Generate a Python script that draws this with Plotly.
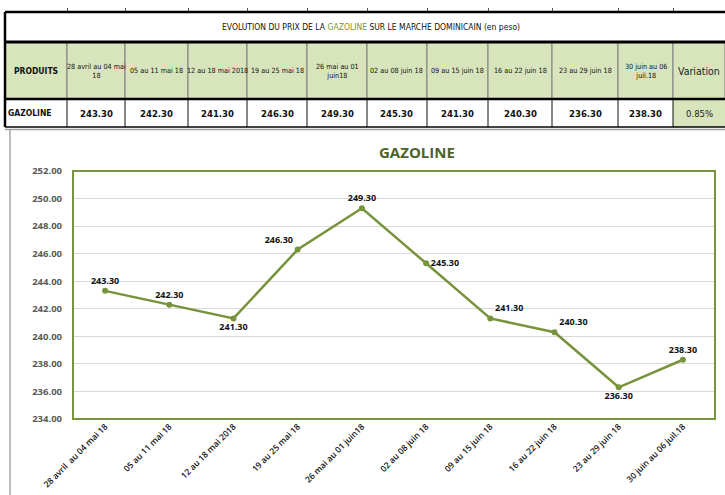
import plotly.graph_objects as go

periodes = [
    "28 avril  au 04 mai 18", "05 au 11 mai 18", "12 au 18 mai 2018", "19 au 25 mai 18",
    "26 mai au 01 juin18", "02 au 08 juin 18", "09 au 15 juin 18", "16 au 22 juin 18",
    "23 au 29 juin 18", "30 juin au 06 juil.18",
]
entetes_tableau = [
    "28 avril au 04 mai<br>18", "05 au 11 mai 18", "12 au 18 mai 2018", "19 au 25 mai 18",
    "26 mai au 01<br>juin18", "02 au 08 juin 18", "09 au 15 juin 18", "16 au 22 juin 18",
    "23 au 29 juin 18", "30 juin au 06<br>juil.18",
]
prix_gazoline = [243.30, 242.30, 241.30, 246.30, 249.30, 245.30, 241.30, 240.30, 236.30, 238.30]
positions_labels = ["top center", "top center", "bottom center", "top left", "top center",
                    "middle right", "top right", "top right", "bottom center", "top center"]

variation = (prix_gazoline[-1] - prix_gazoline[-2]) / prix_gazoline[-2]

VERT = "#77933c"
VERT_FONCE = "#4f6228"
VERT_CLAIR = "#d8e4bc"
NARROW = "DejaVu Sans Condensed, Liberation Sans Narrow, Roboto Condensed, sans-serif"
CHART_FONT = "Open Sans"

W, H = 725, 495
PL, PR, PT, PB = 73, 715, 171, 419  # zone de tracé en pixels


def px(x):
    return (x - PL) / (PR - PL)


def py(y):
    return (PB - y) / (PB - PT)


def narrow(size, color="#111111", weight="normal"):
    return dict(family=NARROW, size=size, color=color, weight=weight)


def texte(x, y, txt, font, xanchor="center"):
    return dict(xref="paper", yref="paper", x=px(x), y=py(y), text=txt, showarrow=False,
                xanchor=xanchor, yanchor="middle", font=font)


fig = go.Figure()
fig.add_trace(go.Scatter(
    x=periodes, y=prix_gazoline,
    mode="lines+markers+text",
    line=dict(color=VERT, width=2.5),
    marker=dict(color=VERT, size=6),
    text=[f"{v:.2f}" for v in prix_gazoline],
    textposition=positions_labels,
    textfont=dict(family=CHART_FONT, size=9, color="#111111", weight="bold"),
    cliponaxis=False,
    hoverinfo="skip",
))

shapes = []
annotations = []

# ---- tableau du haut ----
cols = [5, 67, 125, 188, 247, 307, 367, 427, 488, 552, 618, 673, 725]
y_titre, y_entete, y_data, y_bas = 12, 42, 99, 127

# remplissage vert des entêtes + cellule variation
for i in range(len(cols) - 1):
    shapes.append(dict(type="rect", xref="paper", yref="paper",
                       x0=px(cols[i]), x1=px(cols[i + 1]), y0=py(y_data), y1=py(y_entete),
                       fillcolor=VERT_CLAIR, line=dict(color="#7f7f7f", width=1), layer="below"))
shapes.append(dict(type="rect", xref="paper", yref="paper",
                   x0=px(cols[-2]), x1=px(cols[-1]), y0=py(y_bas), y1=py(y_data),
                   fillcolor=VERT_CLAIR, line=dict(width=0), layer="below"))

# séparateurs de colonnes ligne données
for c in cols[1:-1]:
    shapes.append(dict(type="line", xref="paper", yref="paper",
                       x0=px(c), x1=px(c), y0=py(y_bas), y1=py(y_data),
                       line=dict(color="#111111", width=1)))
# petites marques au-dessus du tableau
for c in cols[1:-1]:
    shapes.append(dict(type="line", xref="paper", yref="paper",
                       x0=px(c + 0.5), x1=px(c + 0.5), y0=py(y_titre), y1=py(y_titre - 4),
                       line=dict(color="#555555", width=1)))

# bordures épaisses
for yy, w in [(y_titre, 2.5), (y_entete, 3), (y_data, 2.5), (y_bas, 1.5)]:
    shapes.append(dict(type="line", xref="paper", yref="paper",
                       x0=px(cols[0]), x1=px(cols[-1]), y0=py(yy), y1=py(yy),
                       line=dict(color="#000000", width=w)))
shapes.append(dict(type="line", xref="paper", yref="paper",
                   x0=px(cols[0]), x1=px(cols[0]), y0=py(y_bas), y1=py(y_titre),
                   line=dict(color="#000000", width=2.5)))
shapes.append(dict(type="line", xref="paper", yref="paper",
                   x0=px(cols[0]), x1=px(cols[-1]), y0=py(y_bas + 2.5), y1=py(y_bas + 2.5),
                   line=dict(color="#a0a0a0", width=1.5)))

y_mid_titre = (y_titre + y_entete) / 2
y_mid_entete = (y_entete + y_data) / 2
y_mid_data = (y_data + y_bas) / 2

annotations.append(texte(
    371, y_mid_titre,
    f"EVOLUTION DU PRIX DE LA <span style='color:{VERT}'>GAZOLINE</span> SUR LE MARCHE DOMINICAIN (en peso)",
    narrow(8.5)))
annotations.append(texte((cols[0] + cols[1]) / 2, y_mid_entete, "PRODUITS", narrow(8.5, weight="bold")))
annotations.append(texte(cols[0] + 1, y_mid_data, "GAZOLINE", narrow(8.5, weight="bold"), xanchor="left"))

for i, (lab, v) in enumerate(zip(entetes_tableau, prix_gazoline)):
    xc = (cols[i + 1] + cols[i + 2]) / 2
    annotations.append(texte(xc, y_mid_entete, lab, narrow(7.2)))
    annotations.append(texte(xc, y_mid_data, f"{v:.2f}", narrow(9.5, weight="bold")))

annotations.append(texte((cols[-2] + cols[-1]) / 2, y_mid_entete, "Variation", narrow(10.5, color="#222222")))
annotations.append(texte((cols[-2] + cols[-1]) / 2, y_mid_data, f"{variation * 100:.2f}%",
                         narrow(9.5, color="#222222")))

# ---- cadre du graphique ----
shapes.append(dict(type="line", xref="paper", yref="paper",
                   x0=px(10), x1=px(10), y0=py(500), y1=py(y_bas + 2.5),
                   line=dict(color="#a6a6a6", width=1.5)))
shapes.append(dict(type="rect", xref="paper", yref="paper", x0=0, x1=1, y0=0, y1=1,
                   line=dict(color=VERT, width=2)))

annotations.append(texte(417, 152, "<b>GAZOLINE</b>",
                         dict(family=CHART_FONT, size=15, color=VERT_FONCE)))

fig.update_layout(
    width=W, height=H,
    margin=dict(l=PL, r=W - PR, t=PT, b=H - PB),
    paper_bgcolor="white", plot_bgcolor="white",
    showlegend=False,
    shapes=shapes, annotations=annotations,
    xaxis=dict(
        type="category", range=[-0.5, len(periodes) - 0.5], automargin=False,
        tickangle=-45, showgrid=False, zeroline=False, ticks="",
        tickfont=dict(family=CHART_FONT, size=8.5, color="#111111", weight=600),
    ),
    yaxis=dict(
        range=[234, 252], dtick=2, tickformat=".2f", automargin=False,
        showgrid=True, gridcolor="#d9d9d9", gridwidth=1, zeroline=False, ticks="",
        ticklabelstandoff=10,
        tickfont=dict(family=CHART_FONT, size=9.5, color="#595959", weight="bold"),
    ),
)

# la page a une marge de 8px par défaut : on la retire pour caler la figure dans la fenêtre
fig.write_html("out.html", config={"displayModeBar": False},
               post_script="document.body.style.margin='0px';")
